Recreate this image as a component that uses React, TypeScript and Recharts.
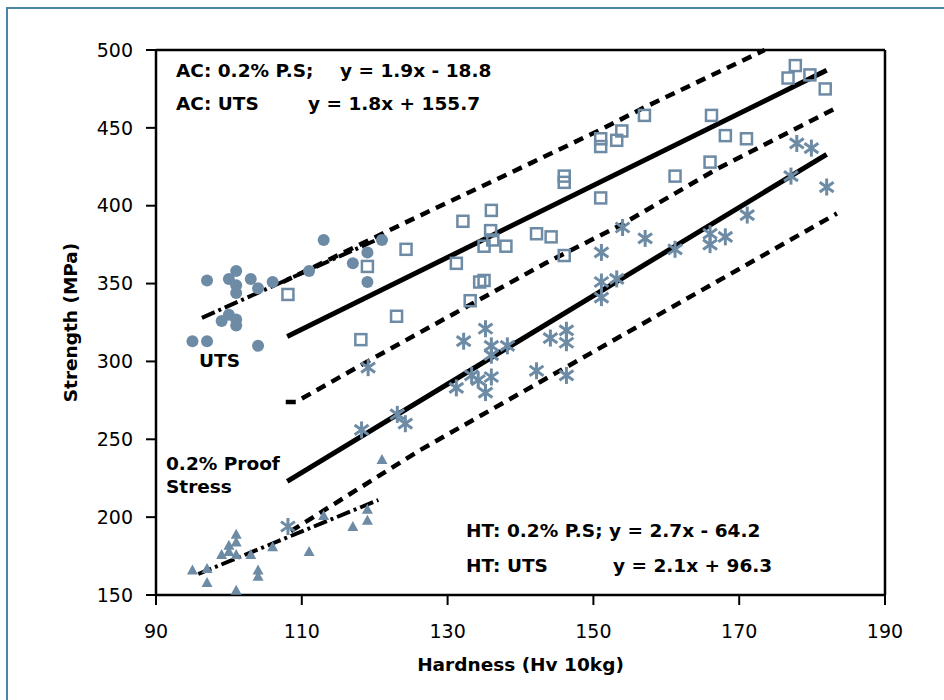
import React from "react";
import { ComposedChart, Scatter, XAxis, YAxis, ReferenceLine } from "recharts";

type P = { x: number; y: number };

const xTicks = [90, 110, 130, 150, 170, 190];
const yTicks = [150, 200, 250, 300, 350, 400, 450, 500];

// as-cast UTS (filled circles)
const acUts: P[] = [
  { x: 113, y: 378 }, { x: 121, y: 378 }, { x: 119, y: 370 }, { x: 101, y: 358 },
  { x: 100, y: 353 }, { x: 103, y: 353 }, { x: 97, y: 352 }, { x: 101, y: 349 },
  { x: 104, y: 347 }, { x: 106, y: 351 }, { x: 111, y: 358 }, { x: 117, y: 363 },
  { x: 119, y: 351 }, { x: 101, y: 344 }, { x: 99, y: 326 }, { x: 100, y: 330 },
  { x: 101, y: 327 }, { x: 101, y: 323 }, { x: 95, y: 313 }, { x: 97, y: 313 },
  { x: 104, y: 310 },
];

// as-cast 0.2% proof stress (triangles)
const acPs: P[] = [
  { x: 95, y: 166 }, { x: 97, y: 167 }, { x: 97, y: 158 }, { x: 99, y: 176 },
  { x: 100, y: 182 }, { x: 100, y: 178 }, { x: 101, y: 189 }, { x: 101, y: 184 },
  { x: 101, y: 176 }, { x: 103, y: 176 }, { x: 104, y: 166 }, { x: 104, y: 162 },
  { x: 101, y: 153 }, { x: 106, y: 181 }, { x: 111, y: 178 }, { x: 113, y: 201 },
  { x: 117, y: 194 }, { x: 119, y: 198 }, { x: 119, y: 205 }, { x: 121, y: 237 },
];

// heat treated UTS (open squares)
const htUts: P[] = [
  { x: 177.7, y: 490 }, { x: 176.7, y: 482 }, { x: 179.7, y: 484 }, { x: 181.8, y: 475 },
  { x: 157, y: 458 }, { x: 153.9, y: 448 }, { x: 153.2, y: 442 }, { x: 151, y: 443 },
  { x: 151, y: 438 }, { x: 166.2, y: 458 }, { x: 168.1, y: 445 }, { x: 171, y: 443 },
  { x: 166, y: 428 }, { x: 161.2, y: 419 }, { x: 146, y: 419 }, { x: 146, y: 415 },
  { x: 151, y: 405 }, { x: 136, y: 397 }, { x: 132.1, y: 390 }, { x: 135.9, y: 384 },
  { x: 136.2, y: 378 }, { x: 135, y: 374 }, { x: 138, y: 374 }, { x: 142.2, y: 382 },
  { x: 144.2, y: 380 }, { x: 124.3, y: 372 }, { x: 146, y: 368 }, { x: 131.2, y: 363 },
  { x: 134.4, y: 351 }, { x: 135, y: 352 }, { x: 133.1, y: 339 }, { x: 108.1, y: 343 },
  { x: 119, y: 361 }, { x: 123, y: 329 }, { x: 118.1, y: 314 },
];

// heat treated 0.2% proof stress (asterisks)
const htPs: P[] = [
  { x: 177.9, y: 440 }, { x: 179.9, y: 437 }, { x: 177.1, y: 419 }, { x: 182, y: 412 },
  { x: 171.1, y: 394 }, { x: 168.1, y: 380 }, { x: 166, y: 382 }, { x: 166, y: 375 },
  { x: 161.2, y: 372 }, { x: 157.1, y: 379 }, { x: 154, y: 386 }, { x: 151.1, y: 370 },
  { x: 151.1, y: 351 }, { x: 153.2, y: 353 }, { x: 151.1, y: 341 }, { x: 132.2, y: 313 },
  { x: 135.2, y: 321 }, { x: 136, y: 310 }, { x: 138.2, y: 310 }, { x: 136, y: 304 },
  { x: 144.1, y: 315 }, { x: 146.3, y: 320 }, { x: 146.3, y: 312 }, { x: 131.2, y: 283 },
  { x: 133.3, y: 291 }, { x: 134.2, y: 288 }, { x: 136, y: 290 }, { x: 135.2, y: 280 },
  { x: 142.2, y: 294 }, { x: 146.3, y: 291 }, { x: 119.1, y: 296 }, { x: 118.2, y: 256 },
  { x: 123.1, y: 266 }, { x: 124.2, y: 260 }, { x: 108.1, y: 194 },
];

// fit lines and bands
const htUtsFit: P[] = [{ x: 108, y: 316 }, { x: 182, y: 487 }];
const htPsFit: P[] = [{ x: 108, y: 223 }, { x: 182, y: 433 }];
const acUtsFit: P[] = [{ x: 96.3, y: 328 }, { x: 121.4, y: 380.5 }];
const acPsFit: P[] = [{ x: 95.8, y: 163.5 }, { x: 120.5, y: 211 }];
const upperBand: P[] = [
  { x: 107.4, y: 351 }, { x: 123.5, y: 387.6 }, { x: 141.7, y: 428 },
  { x: 150.9, y: 448.6 }, { x: 156.8, y: 462.7 }, { x: 173.5, y: 500 },
];
const middleBand: P[] = [
  { x: 107.8, y: 274 }, { x: 109.2, y: 274 }, { x: 119.4, y: 301 }, { x: 131, y: 331 },
  { x: 143.4, y: 363 }, { x: 153.9, y: 388 }, { x: 167.1, y: 424 }, { x: 183.4, y: 463 },
];
const lowerBand: P[] = [{ x: 108.5, y: 191 }, { x: 126.2, y: 243 }, { x: 183.4, y: 395 }];

const MARK = "#6d8ba5";
const FONT = "DejaVu Sans";

const Dot = (p: any) => <circle cx={p.cx} cy={p.cy} r={6} fill={MARK} />;
const Tri = (p: any) => (
  <polygon
    points={`${p.cx},${p.cy - 5.5} ${p.cx + 5.5},${p.cy + 4.5} ${p.cx - 5.5},${p.cy + 4.5}`}
    fill={MARK}
  />
);
const Sq = (p: any) => (
  <rect x={p.cx - 5.5} y={p.cy - 5.5} width={11} height={11} fill="none" stroke={MARK} strokeWidth={2.5} />
);
const Star = (p: any) => {
  const r = 8.5;
  const dx = r * Math.cos(Math.PI * 35 / 180);
  const dy = r * Math.sin(Math.PI * 35 / 180);
  return (
    <g stroke={MARK} strokeWidth={3}>
      <line x1={p.cx} y1={p.cy - r} x2={p.cx} y2={p.cy + r} />
      <line x1={p.cx - dx} y1={p.cy - dy} x2={p.cx + dx} y2={p.cy + dy} />
      <line x1={p.cx - dx} y1={p.cy + dy} x2={p.cx + dx} y2={p.cy - dy} />
    </g>
  );
};
const None = () => <g />;

const solid = { stroke: "#000", strokeWidth: 5 };
const dashed = { stroke: "#000", strokeWidth: 4.5, strokeDasharray: "10 7" };
const dashDot = { stroke: "#000", strokeWidth: 4, strokeDasharray: "14 4 3 4" };

const txt = { fontFamily: FONT, fontWeight: 700, fontSize: 18.5, fill: "#000" } as const;

export default function App() {
  return (
    <div style={{ position: "absolute", left: 0, top: 0, width: 944, height: 700, background: "#fff", overflow: "hidden" }}>
      <div style={{ position: "absolute", left: 6, top: 7, width: 1000, height: 800, borderLeft: "2.5px solid #4a86a2", borderTop: "2.5px solid #4a86a2" }} />
      <div style={{ position: "absolute", left: 0, top: 0 }}>
        <ComposedChart width={944} height={700} margin={{ top: 50, right: 59, bottom: 0, left: 0 }}>
          <XAxis
            type="number" dataKey="x" domain={[90, 190]} ticks={xTicks} height={105}
            tickSize={10} tickMargin={20}
            axisLine={{ stroke: "#000", strokeWidth: 2.5 }}
            tickLine={{ stroke: "#000", strokeWidth: 2 }}
            tick={{ fill: "#000", fontSize: 19, fontFamily: FONT }}
            label={{ value: "Hardness (Hv 10kg)", position: "insideBottom", offset: 29, fill: "#000", fontSize: 18.5, fontWeight: 700, fontFamily: FONT }}
          />
          <YAxis
            type="number" dataKey="y" domain={[150, 500]} ticks={yTicks} width={156}
            tickSize={10} tickMargin={13}
            axisLine={{ stroke: "#000", strokeWidth: 2.5 }}
            tickLine={{ stroke: "#000", strokeWidth: 2 }}
            tick={{ fill: "#000", fontSize: 19, fontFamily: FONT }}
            label={{ value: "Strength (MPa)", angle: -90, position: "insideLeft", offset: 70, fill: "#000", fontSize: 18.5, fontWeight: 700, fontFamily: FONT, style: { textAnchor: "middle" } }}
          />
          <ReferenceLine y={500} stroke="#000" strokeWidth={2.5} />
          <ReferenceLine x={190} stroke="#000" strokeWidth={2.5} />

          <Scatter data={upperBand} line={dashed} lineType="joint" shape={None} isAnimationActive={false} />
          <Scatter data={middleBand} line={dashed} lineType="joint" shape={None} isAnimationActive={false} />
          <Scatter data={lowerBand} line={dashed} lineType="joint" shape={None} isAnimationActive={false} />
          <Scatter data={htUtsFit} line={solid} lineType="joint" shape={None} isAnimationActive={false} />
          <Scatter data={htPsFit} line={solid} lineType="joint" shape={None} isAnimationActive={false} />
          <Scatter data={acUtsFit} line={dashDot} lineType="joint" shape={None} isAnimationActive={false} />
          <Scatter data={acPsFit} line={dashDot} lineType="joint" shape={None} isAnimationActive={false} />

          <Scatter data={acUts} shape={Dot} isAnimationActive={false} />
          <Scatter data={acPs} shape={Tri} isAnimationActive={false} />
          <Scatter data={htUts} shape={Sq} isAnimationActive={false} />
          <Scatter data={htPs} shape={Star} isAnimationActive={false} />
        </ComposedChart>
      </div>
      <svg width={944} height={700} style={{ position: "absolute", left: 0, top: 0, pointerEvents: "none" }}>
        <text x={176} y={77} {...txt}>AC: 0.2% P.S;</text>
        <text x={340} y={77} {...txt}>y = 1.9x - 18.8</text>
        <text x={176} y={110} {...txt}>AC: UTS</text>
        <text x={308} y={110} {...txt}>y = 1.8x + 155.7</text>
        <text x={199} y={367} {...txt}>UTS</text>
        <text x={166} y={470} {...txt}>0.2% Proof</text>
        <text x={166} y={493} {...txt}>Stress</text>
        <text x={466} y={537} {...txt}>HT: 0.2% P.S; y = 2.7x - 64.2</text>
        <text x={466} y={572} {...txt}>HT: UTS</text>
        <text x={613} y={572} {...txt}>y = 2.1x + 96.3</text>
      </svg>
    </div>
  );
}
